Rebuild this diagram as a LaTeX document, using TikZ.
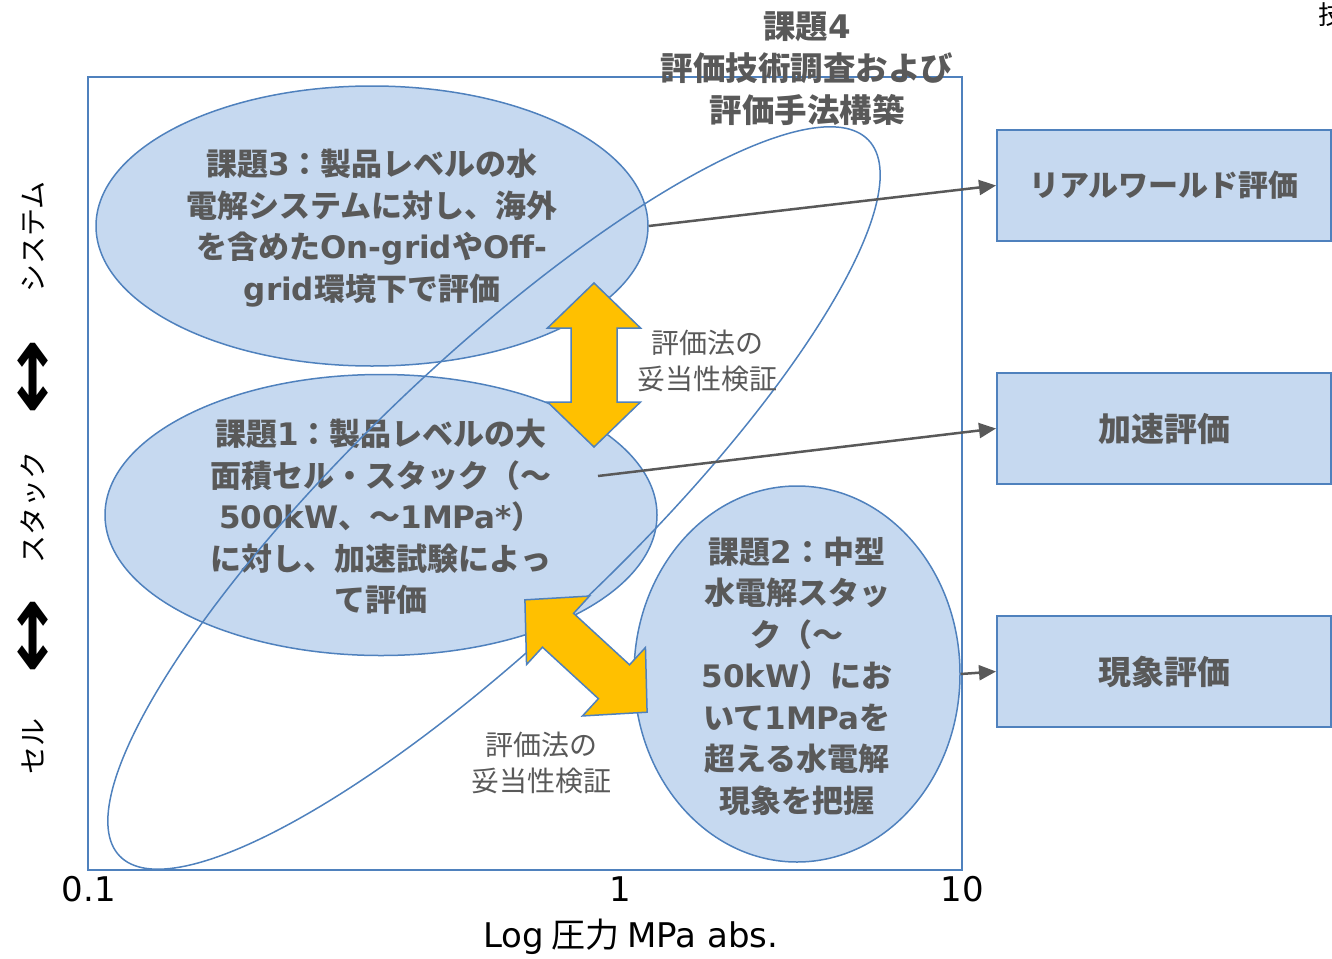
\documentclass[tikz,border=0pt]{standalone}
\usepackage{fontspec}
\usepackage{graphicx}
\setmainfont{Noto Sans CJK JP}
\newfontfamily\la{DejaVu Sans}
\usetikzlibrary{arrows.meta,shapes.geometric}
\definecolor{efill}{HTML}{C6D9F0}
\definecolor{eline}{HTML}{4F81BD}
\definecolor{tgray}{HTML}{595959}
\definecolor{ylw}{HTML}{FFC000}
\newcommand\lt[1]{{\la #1}}
\begin{document}
\begin{tikzpicture}[x=1pt,y=1pt,
 ell/.style={ellipse, draw=eline, fill=efill, line width=1.5pt, inner sep=0pt},
 etext/.style={text=tgray, font=\bfseries\fontsize{31}{41.5}\selectfont, align=center, inner sep=0pt},
 box/.style={rectangle, draw=eline, fill=efill, line width=2pt, minimum width=334pt, minimum height=111pt, inner sep=0pt, text=tgray, font=\bfseries\fontsize{32}{38}\selectfont},
 conn/.style={draw=tgray, line width=2.5pt, -{Triangle[length=17pt,width=15pt]}},
 note/.style={text=tgray, font=\fontsize{28}{36}\selectfont, align=center, inner sep=0pt},
 axl/.style={text=black, font=\fontsize{34}{38}\selectfont, inner sep=0pt},
 side/.style={text=black, font=\fontsize{28}{32}\selectfont, rotate=90, inner sep=0pt},
 sidearrow/.style={text=black, font=\la\bfseries\fontsize{68}{68}\selectfont, inner sep=0pt},
 yarrow/.style={fill=ylw, draw=eline, line width=1.5pt, line join=miter}
]
\useasboundingbox (0,0) rectangle (1332,-958);
% plot frame
\draw[eline, line width=1.5pt] (88,-77) rectangle (962,-870);
% ellipses
\node[ell, minimum width=552pt, minimum height=280pt] (e3) at (372,-226) {};
\node[ell, minimum width=552pt, minimum height=281pt] (e1) at (381,-515) {};
\node[ell, minimum width=326pt, minimum height=376pt] (e2) at (797,-674) {};
\node[etext] (e3t) at (372,-228) {課題\lt{3}：製品レベルの水\\電解システムに対し、海外\\を含めた\lt{On-grid}や\lt{Off-}\\\lt{grid}環境下で評価};
\node[etext] (e1t) at (381,-517) {課題\lt{1}：製品レベルの大\\面積セル・スタック（～\\\lt{500kW}、～\lt{1MPa*}）\\に対し、加速試験によっ\\て評価};
\node[etext] (e2t) at (797,-676) {課題\lt{2}：中型\\水電解スタッ\\ク（～\\\lt{50kW}）にお\\いて\lt{1MPa}を\\超える水電解\\現象を把握};
% tilted ellipse
\draw[eline, line width=1.5pt, rotate around={43.7:(494,-498)}] (494,-498) ellipse [x radius=518pt, y radius=136pt];
% yellow double arrows
\begin{scope}[shift={(594,-365)}, rotate=90]
\path[yarrow] (82,0) -- (37,46.5) -- (37,23) -- (-37,23) -- (-37,46.5) -- (-82,0) -- (-37,-46.5) -- (-37,-23) -- (37,-23) -- (37,-46.5) -- cycle;
\end{scope}
\begin{scope}[shift={(586,-656)}, rotate=-42.6]
\path[yarrow] (83,0) -- (38,46.5) -- (38,23) -- (-38,23) -- (-38,46.5) -- (-83,0) -- (-38,-46.5) -- (-38,-23) -- (38,-23) -- (38,-46.5) -- cycle;
\end{scope}
\node[note] (n1) at (707,-361) {評価法の\\妥当性検証};
\node[note] (n2) at (541,-763) {評価法の\\妥当性検証};
% title
\node[etext, font=\bfseries\fontsize{32.5}{42}\selectfont] (title) at (807,-69) {課題\lt{4}\\評価技術調査および\\評価手法構築};
% boxes
\node[box, font=\bfseries\fontsize{30}{38}\selectfont] (b1) at (1164,-185.5) {リアルワールド評価};
\node[box, font=\bfseries\fontsize{33}{38}\selectfont] (b2) at (1164,-428.5) {加速評価};
\node[box, font=\bfseries\fontsize{33}{38}\selectfont] (b3) at (1164,-671.5) {現象評価};
% connectors
\coordinate (c2) at (598,-476);
\draw[conn] (e3.east) -- (b1.west);
\draw[conn] (c2) -- (b2.west);
\draw[conn] (e2.east) -- (b3.west);
% axis labels
\node[axl, font=\la\fontsize{34}{38}\selectfont] (x01) at (89,-889) {0.1};
\node[axl, font=\la\fontsize{34}{38}\selectfont] (x1) at (620,-889) {1};
\node[axl, font=\la\fontsize{34}{38}\selectfont] (x10) at (962,-889) {10};
\node[axl] (xlab) at (631,-937) {\lt{Log} 圧力 \lt{MPa abs.}};
% side labels
\node[side] (s1) at (33,-237) {システム};
\node[sidearrow] (s2) at (33,-377) {\scalebox{1}[1.35]{↕}};
\node[side] (s3) at (33,-507) {スタック};
\node[sidearrow] (s4) at (33,-636) {\scalebox{1}[1.35]{↕}};
\node[side] (s5) at (33,-746) {セル};
% clipped character at top right
\node[anchor=north west, text=black, font=\fontsize{26}{26}\selectfont, inner sep=0pt] (tr) at (1318,-2) {技};
\end{tikzpicture}
\end{document}
